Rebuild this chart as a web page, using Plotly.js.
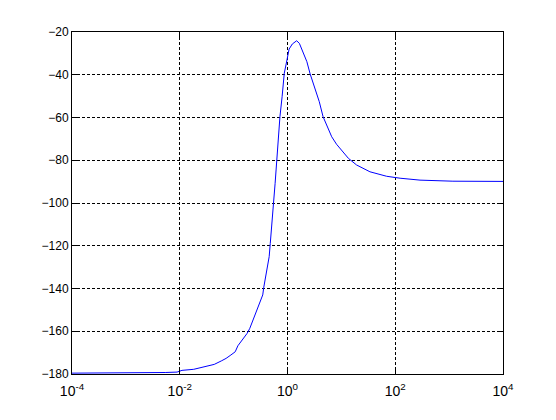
<!DOCTYPE html>
<html>
<head>
<meta charset="utf-8">
<script src="https://cdn.plot.ly/plotly-3.0.1.min.js"></script>
<style>html,body{margin:0;padding:0;background:#fff;}#chart{width:556px;height:420px;}</style>
</head>
<body>
<div id="chart"></div>
<script>
const freq = [1e-4, 4.47e-3, 5.37e-3, 8.91e-3, 1.10e-2, 1.82e-2, 2.57e-2, 3.31e-2, 4.37e-2, 5.89e-2,
  7.24e-2, 8.91e-2, 0.107, 0.120, 0.145, 0.178, 0.200, 0.229, 0.269, 0.309,
  0.347, 0.363, 0.407, 0.457, 0.479, 0.501, 0.550, 0.589, 0.631, 0.676,
  0.724, 0.794, 0.871, 0.977, 1.07, 1.23, 1.48, 1.66, 1.95, 2.29,
  2.63, 3.24, 3.89, 4.57, 5.50, 6.61, 8.13, 9.33, 13.5, 19.1,
  22.4, 33.9, 69.2, 123, 288, 1175, 10000];
const response = [-179.6, -179.6, -179.3, -179.1, -178.3, -177.8, -177.0, -176.4, -175.5, -173.9,
  -172.7, -171.1, -169.6, -166.8, -164.1, -161.0, -158.6, -154.7, -150.0, -145.4,
  -143.0, -139.4, -131.3, -125.1, -118.9, -111.0, -100.1, -90.8, -79.9, -70.5,
  -59.6, -50.3, -39.3, -33.1, -28.0, -25.6, -24.1, -25.3, -30.0, -33.9,
  -39.6, -46.3, -52.6, -59.6, -64.0, -69.0, -72.5, -74.4, -79.1, -82.2,
  -83.0, -85.4, -87.5, -88.4, -89.3, -89.8, -89.9];
const xTickVals = [1e-4, 1e-2, 1, 1e2, 1e4];
const xTickText = ['10<sup>-4</sup>', '10<sup>-2</sup>', '10<sup>0</sup>', '10<sup>2</sup>', '10<sup>4</sup>'];
const yTickVals = [-180, -160, -140, -120, -100, -80, -60, -40, -20];

Plotly.newPlot('chart', [{
  x: freq, y: response, type: 'scatter', mode: 'lines',
  line: {color: '#0000ff', width: 1}
}], {
  width: 556, height: 420,
  margin: {l: 72, r: 53, t: 32, b: 46},
  paper_bgcolor: '#ffffff', plot_bgcolor: '#ffffff',
  showlegend: false,
  font: {family: 'Liberation Sans, Arial, sans-serif', size: 12, color: '#000'},
  xaxis: {
    type: 'log', range: [-4, 4], tickvals: xTickVals, ticktext: xTickText,
    showline: true, linecolor: '#000', linewidth: 1, mirror: 'ticks',
    ticks: 'inside', ticklen: 5, tickcolor: '#000',
    showgrid: true, gridcolor: '#000', gridwidth: 1, griddash: '3px,2px',
    zeroline: false, tickfont: {size: 14}, ticklabelstandoff: 4
  },
  yaxis: {
    range: [-180, -20], tickvals: yTickVals,
    showline: true, linecolor: '#000', linewidth: 1, mirror: 'ticks',
    ticks: 'inside', ticklen: 5, tickcolor: '#000',
    showgrid: true, gridcolor: '#000', gridwidth: 1, griddash: '3px,2px',
    zeroline: false, tickfont: {size: 12}
  }
}, {displayModeBar: false, staticPlot: true});
</script>
</body>
</html>
